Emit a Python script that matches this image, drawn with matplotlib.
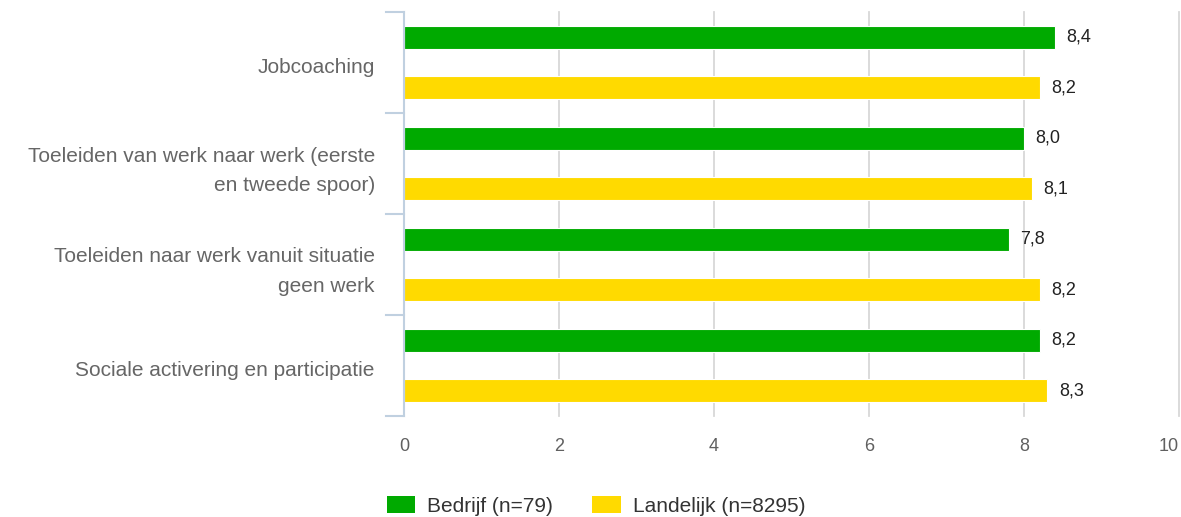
import matplotlib
matplotlib.use("Agg")
import matplotlib.pyplot as plt
from matplotlib.patches import Patch
import matplotlib.transforms as mtransforms
import numpy as np

categories = ["Jobcoaching",
              "Toeleiden van werk naar werk (eerste\nen tweede spoor)",
              "Toeleiden naar werk vanuit situatie\ngeen werk",
              "Sociale activering en participatie"]
bedrijf = [8.4, 8.0, 7.8, 8.2]
landelijk = [8.2, 8.1, 8.2, 8.3]
series_names = ["Bedrijf (n=79)", "Landelijk (n=8295)"]
xticks = [0, 2, 4, 6, 8, 10]

plt.rcParams['font.family'] = ['Liberation Sans', 'DejaVu Sans']
W, H = 1181, 517
fig = plt.figure(figsize=(W/100, H/100), dpi=100)
ax = fig.add_axes([404/W, 1-416/H, (1179-404)/W, (416-12)/H])

green = "#00AA00"
yellow = "#FFDA00"
y = np.arange(len(categories))
off = 0.25
h = 0.23
ax.barh(y - off, bedrijf, height=h, color=green, edgecolor="white", linewidth=0.8, zorder=3)
ax.barh(y + off, landelijk, height=h, color=yellow, edgecolor="white", linewidth=0.8, zorder=3)

for yi, v in zip(y - off, bedrijf):
    ax.text(v + 0.15, yi, f"{v:.1f}".replace(".", ","), va="center", ha="left",
            fontsize=13, color="#222222")
for yi, v in zip(y + off, landelijk):
    ax.text(v + 0.15, yi, f"{v:.1f}".replace(".", ","), va="center", ha="left",
            fontsize=13, color="#222222")

ax.set_xlim(0, 10)
ax.set_ylim(len(categories) - 0.5, -0.5)
ax.set_xticks(xticks)
ax.set_xticklabels([str(t) for t in xticks], fontsize=13, color="#606060")
ax.tick_params(axis="x", length=0, pad=16)
lbls = ax.get_xticklabels()
lbls[-1].set_ha("right")
for t in xticks[1:]:
    ax.axvline(t, color="#D8D8D8", lw=1.3, zorder=1, clip_on=False)

ax.set_yticks(y)
ax.set_yticklabels(categories, fontsize=15, color="#666666", linespacing=1.7)
ax.tick_params(axis="y", length=0, pad=21)
shift = mtransforms.ScaledTranslation(0, -3/100, fig.dpi_scale_trans)
for lab in ax.get_yticklabels():
    if "\n" not in lab.get_text():
        lab.set_transform(lab.get_transform() + shift)
for b in np.arange(-0.5, len(categories), 1.0):
    ax.plot([-18/77.5, 0], [b, b], color="#C0D0E0", lw=1.5, clip_on=False, zorder=4)

for s in ["top", "right", "bottom"]:
    ax.spines[s].set_visible(False)
ax.spines["left"].set_color("#C0D0E0")
ax.spines["left"].set_linewidth(1.5)
ax.spines["left"].set_zorder(5)

handles = [Patch(facecolor=green, edgecolor="none"), Patch(facecolor=yellow, edgecolor="none")]
fig.legend(handles, series_names, loc="center", bbox_to_anchor=(596/W, 1-506/H),
           ncol=2, frameon=False, fontsize=15, handlelength=1.35, handleheight=0.87,
           columnspacing=1.9, handletextpad=0.58, labelcolor="#333333",
           borderpad=0.2)

fig.savefig("out.png", dpi=100, facecolor="white")
